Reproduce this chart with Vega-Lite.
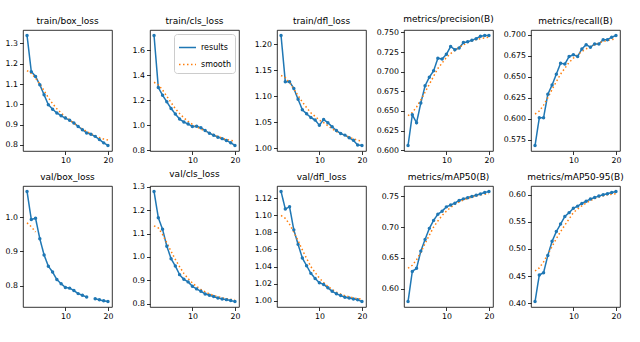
{
"$schema":"https://vega.github.io/schema/vega-lite/v6.json",
"background":"white",
"padding":{"left":4,"top":14,"right":4,"bottom":4},
"columns":5,
"bounds":"flush",
"spacing":{"row":35,"column":38},
"config":{
 "view":{"continuousWidth":89,"continuousHeight":121,"stroke":"#000","strokeWidth":0.8},
 "axis":{"grid":false,"domain":false,"tickColor":"#000","tickSize":3.5,"tickWidth":0.8,"labelFont":"DejaVu Sans","labelFontSize":7.8,"labelColor":"#000","labelPadding":2,"title":null},
 "title":{"font":"DejaVu Sans","fontSize":9,"fontWeight":"normal","color":"#000","offset":4},
 "legend":{"labelFont":"DejaVu Sans","labelFontSize":8,"labelColor":"#000","fillColor":"white","strokeColor":"#cccccc","cornerRadius":3,"padding":4,"offset":4,"rowPadding":3,"symbolType":"stroke","symbolSize":289,"symbolStrokeWidth":1.5}
},
"data":{"values":[
{"m":"train/box_loss","e":1,"results":1.339,"smooth":1.166},
{"m":"train/box_loss","e":2,"results":1.161,"smooth":1.152},
{"m":"train/box_loss","e":3,"results":1.137,"smooth":1.129},
{"m":"train/box_loss","e":4,"results":1.096,"smooth":1.100},
{"m":"train/box_loss","e":5,"results":1.047,"smooth":1.067},
{"m":"train/box_loss","e":6,"results":0.998,"smooth":1.033},
{"m":"train/box_loss","e":7,"results":0.976,"smooth":1.003},
{"m":"train/box_loss","e":8,"results":0.957,"smooth":0.978},
{"m":"train/box_loss","e":9,"results":0.944,"smooth":0.957},
{"m":"train/box_loss","e":10,"results":0.932,"smooth":0.938},
{"m":"train/box_loss","e":11,"results":0.921,"smooth":0.922},
{"m":"train/box_loss","e":12,"results":0.908,"smooth":0.907},
{"m":"train/box_loss","e":13,"results":0.891,"smooth":0.892},
{"m":"train/box_loss","e":14,"results":0.875,"smooth":0.879},
{"m":"train/box_loss","e":15,"results":0.859,"smooth":0.866},
{"m":"train/box_loss","e":16,"results":0.852,"smooth":0.855},
{"m":"train/box_loss","e":17,"results":0.842,"smooth":0.845},
{"m":"train/box_loss","e":18,"results":0.826,"smooth":0.836},
{"m":"train/box_loss","e":19,"results":0.810,"smooth":0.829},
{"m":"train/box_loss","e":20,"results":0.797,"smooth":0.824},
{"m":"train/cls_loss","e":1,"results":1.720,"smooth":1.345},
{"m":"train/cls_loss","e":2,"results":1.303,"smooth":1.325},
{"m":"train/cls_loss","e":3,"results":1.241,"smooth":1.283},
{"m":"train/cls_loss","e":4,"results":1.188,"smooth":1.233},
{"m":"train/cls_loss","e":5,"results":1.135,"smooth":1.182},
{"m":"train/cls_loss","e":6,"results":1.090,"smooth":1.134},
{"m":"train/cls_loss","e":7,"results":1.050,"smooth":1.094},
{"m":"train/cls_loss","e":8,"results":1.026,"smooth":1.060},
{"m":"train/cls_loss","e":9,"results":1.010,"smooth":1.031},
{"m":"train/cls_loss","e":10,"results":0.990,"smooth":1.008},
{"m":"train/cls_loss","e":11,"results":0.992,"smooth":0.988},
{"m":"train/cls_loss","e":12,"results":0.980,"smooth":0.970},
{"m":"train/cls_loss","e":13,"results":0.958,"smooth":0.954},
{"m":"train/cls_loss","e":14,"results":0.937,"smooth":0.939},
{"m":"train/cls_loss","e":15,"results":0.920,"smooth":0.924},
{"m":"train/cls_loss","e":16,"results":0.905,"smooth":0.910},
{"m":"train/cls_loss","e":17,"results":0.893,"smooth":0.897},
{"m":"train/cls_loss","e":18,"results":0.878,"smooth":0.886},
{"m":"train/cls_loss","e":19,"results":0.860,"smooth":0.878},
{"m":"train/cls_loss","e":20,"results":0.838,"smooth":0.8735},
{"m":"train/dfl_loss","e":1,"results":1.217,"smooth":1.140},
{"m":"train/dfl_loss","e":2,"results":1.128,"smooth":1.136},
{"m":"train/dfl_loss","e":3,"results":1.128,"smooth":1.126},
{"m":"train/dfl_loss","e":4,"results":1.115,"smooth":1.114},
{"m":"train/dfl_loss","e":5,"results":1.094,"smooth":1.101},
{"m":"train/dfl_loss","e":6,"results":1.074,"smooth":1.089},
{"m":"train/dfl_loss","e":7,"results":1.066,"smooth":1.078},
{"m":"train/dfl_loss","e":8,"results":1.059,"smooth":1.068},
{"m":"train/dfl_loss","e":9,"results":1.054,"smooth":1.061},
{"m":"train/dfl_loss","e":10,"results":1.044,"smooth":1.054},
{"m":"train/dfl_loss","e":11,"results":1.055,"smooth":1.049},
{"m":"train/dfl_loss","e":12,"results":1.049,"smooth":1.043},
{"m":"train/dfl_loss","e":13,"results":1.041,"smooth":1.037},
{"m":"train/dfl_loss","e":14,"results":1.034,"smooth":1.032},
{"m":"train/dfl_loss","e":15,"results":1.028,"smooth":1.028},
{"m":"train/dfl_loss","e":16,"results":1.025,"smooth":1.025},
{"m":"train/dfl_loss","e":17,"results":1.020,"smooth":1.021},
{"m":"train/dfl_loss","e":18,"results":1.015,"smooth":1.018},
{"m":"train/dfl_loss","e":19,"results":1.006,"smooth":1.015},
{"m":"train/dfl_loss","e":20,"results":1.005,"smooth":1.0137},
{"m":"metrics/precision(B)","e":1,"results":0.606,"smooth":0.644},
{"m":"metrics/precision(B)","e":2,"results":0.645,"smooth":0.648},
{"m":"metrics/precision(B)","e":3,"results":0.635,"smooth":0.655},
{"m":"metrics/precision(B)","e":4,"results":0.660,"smooth":0.664},
{"m":"metrics/precision(B)","e":5,"results":0.682,"smooth":0.674},
{"m":"metrics/precision(B)","e":6,"results":0.693,"smooth":0.684},
{"m":"metrics/precision(B)","e":7,"results":0.701,"smooth":0.694},
{"m":"metrics/precision(B)","e":8,"results":0.717,"smooth":0.704},
{"m":"metrics/precision(B)","e":9,"results":0.716,"smooth":0.711},
{"m":"metrics/precision(B)","e":10,"results":0.722,"smooth":0.718},
{"m":"metrics/precision(B)","e":11,"results":0.732,"smooth":0.723},
{"m":"metrics/precision(B)","e":12,"results":0.728,"smooth":0.727},
{"m":"metrics/precision(B)","e":13,"results":0.730,"smooth":0.731},
{"m":"metrics/precision(B)","e":14,"results":0.737,"smooth":0.734},
{"m":"metrics/precision(B)","e":15,"results":0.738,"smooth":0.737},
{"m":"metrics/precision(B)","e":16,"results":0.740,"smooth":0.739},
{"m":"metrics/precision(B)","e":17,"results":0.742,"smooth":0.741},
{"m":"metrics/precision(B)","e":18,"results":0.745,"smooth":0.742},
{"m":"metrics/precision(B)","e":19,"results":0.746,"smooth":0.743},
{"m":"metrics/precision(B)","e":20,"results":0.746,"smooth":0.744},
{"m":"metrics/recall(B)","e":1,"results":0.568,"smooth":0.6055},
{"m":"metrics/recall(B)","e":2,"results":0.601,"smooth":0.609},
{"m":"metrics/recall(B)","e":3,"results":0.601,"smooth":0.616},
{"m":"metrics/recall(B)","e":4,"results":0.629,"smooth":0.625},
{"m":"metrics/recall(B)","e":5,"results":0.640,"smooth":0.6347},
{"m":"metrics/recall(B)","e":6,"results":0.653,"smooth":0.644},
{"m":"metrics/recall(B)","e":7,"results":0.666,"smooth":0.653},
{"m":"metrics/recall(B)","e":8,"results":0.665,"smooth":0.660},
{"m":"metrics/recall(B)","e":9,"results":0.674,"smooth":0.667},
{"m":"metrics/recall(B)","e":10,"results":0.676,"smooth":0.672},
{"m":"metrics/recall(B)","e":11,"results":0.674,"smooth":0.676},
{"m":"metrics/recall(B)","e":12,"results":0.683,"smooth":0.680},
{"m":"metrics/recall(B)","e":13,"results":0.688,"smooth":0.683},
{"m":"metrics/recall(B)","e":14,"results":0.685,"smooth":0.686},
{"m":"metrics/recall(B)","e":15,"results":0.689,"smooth":0.688},
{"m":"metrics/recall(B)","e":16,"results":0.689,"smooth":0.690},
{"m":"metrics/recall(B)","e":17,"results":0.694,"smooth":0.692},
{"m":"metrics/recall(B)","e":18,"results":0.694,"smooth":0.693},
{"m":"metrics/recall(B)","e":19,"results":0.697,"smooth":0.694},
{"m":"metrics/recall(B)","e":20,"results":0.699,"smooth":0.695},
{"m":"val/box_loss","e":1,"results":1.075,"smooth":0.9836},
{"m":"val/box_loss","e":2,"results":0.993,"smooth":0.972},
{"m":"val/box_loss","e":3,"results":0.997,"smooth":0.9568},
{"m":"val/box_loss","e":4,"results":0.937,"smooth":null},
{"m":"val/box_loss","e":5,"results":0.890,"smooth":null},
{"m":"val/box_loss","e":6,"results":0.857,"smooth":null},
{"m":"val/box_loss","e":7,"results":0.840,"smooth":null},
{"m":"val/box_loss","e":8,"results":0.818,"smooth":null},
{"m":"val/box_loss","e":9,"results":0.806,"smooth":null},
{"m":"val/box_loss","e":10,"results":0.795,"smooth":null},
{"m":"val/box_loss","e":11,"results":0.793,"smooth":null},
{"m":"val/box_loss","e":12,"results":0.786,"smooth":null},
{"m":"val/box_loss","e":13,"results":0.777,"smooth":null},
{"m":"val/box_loss","e":14,"results":0.772,"smooth":null},
{"m":"val/box_loss","e":15,"results":0.767,"smooth":null},
{"m":"val/box_loss","e":16,"results":null,"smooth":null},
{"m":"val/box_loss","e":17,"results":0.762,"smooth":null},
{"m":"val/box_loss","e":18,"results":0.759,"smooth":null},
{"m":"val/box_loss","e":19,"results":0.756,"smooth":null},
{"m":"val/box_loss","e":20,"results":0.754,"smooth":null},
{"m":"val/cls_loss","e":1,"results":1.280,"smooth":1.133},
{"m":"val/cls_loss","e":2,"results":1.168,"smooth":1.124},
{"m":"val/cls_loss","e":3,"results":1.118,"smooth":1.096},
{"m":"val/cls_loss","e":4,"results":1.046,"smooth":1.060},
{"m":"val/cls_loss","e":5,"results":0.992,"smooth":1.024},
{"m":"val/cls_loss","e":6,"results":0.961,"smooth":0.989},
{"m":"val/cls_loss","e":7,"results":0.924,"smooth":0.958},
{"m":"val/cls_loss","e":8,"results":0.904,"smooth":0.9295},
{"m":"val/cls_loss","e":9,"results":0.893,"smooth":0.907},
{"m":"val/cls_loss","e":10,"results":0.874,"smooth":0.888},
{"m":"val/cls_loss","e":11,"results":0.863,"smooth":0.873},
{"m":"val/cls_loss","e":12,"results":0.853,"smooth":0.861},
{"m":"val/cls_loss","e":13,"results":0.841,"smooth":0.850},
{"m":"val/cls_loss","e":14,"results":0.836,"smooth":0.8415},
{"m":"val/cls_loss","e":15,"results":0.830,"smooth":0.835},
{"m":"val/cls_loss","e":16,"results":0.824,"smooth":0.829},
{"m":"val/cls_loss","e":17,"results":0.820,"smooth":0.825},
{"m":"val/cls_loss","e":18,"results":0.817,"smooth":0.821},
{"m":"val/cls_loss","e":19,"results":0.813,"smooth":0.818},
{"m":"val/cls_loss","e":20,"results":0.809,"smooth":0.817},
{"m":"val/dfl_loss","e":1,"results":1.128,"smooth":1.0999},
{"m":"val/dfl_loss","e":2,"results":1.1075,"smooth":1.0965},
{"m":"val/dfl_loss","e":3,"results":1.110,"smooth":1.0895},
{"m":"val/dfl_loss","e":4,"results":1.083,"smooth":1.0804},
{"m":"val/dfl_loss","e":5,"results":1.066,"smooth":1.0702},
{"m":"val/dfl_loss","e":6,"results":1.050,"smooth":1.0596},
{"m":"val/dfl_loss","e":7,"results":1.041,"smooth":1.0494},
{"m":"val/dfl_loss","e":8,"results":1.032,"smooth":1.0400},
{"m":"val/dfl_loss","e":9,"results":1.026,"smooth":1.0330},
{"m":"val/dfl_loss","e":10,"results":1.021,"smooth":1.0265},
{"m":"val/dfl_loss","e":11,"results":1.019,"smooth":1.0212},
{"m":"val/dfl_loss","e":12,"results":1.015,"smooth":1.0168},
{"m":"val/dfl_loss","e":13,"results":1.011,"smooth":1.0130},
{"m":"val/dfl_loss","e":14,"results":1.008,"smooth":1.0100},
{"m":"val/dfl_loss","e":15,"results":1.006,"smooth":1.0077},
{"m":"val/dfl_loss","e":16,"results":1.004,"smooth":1.0059},
{"m":"val/dfl_loss","e":17,"results":1.003,"smooth":1.0045},
{"m":"val/dfl_loss","e":18,"results":1.002,"smooth":1.0033},
{"m":"val/dfl_loss","e":19,"results":1.001,"smooth":1.0024},
{"m":"val/dfl_loss","e":20,"results":0.999,"smooth":1.0019},
{"m":"metrics/mAP50(B)","e":1,"results":0.579,"smooth":0.6331},
{"m":"metrics/mAP50(B)","e":2,"results":0.628,"smooth":0.638},
{"m":"metrics/mAP50(B)","e":3,"results":0.633,"smooth":0.647},
{"m":"metrics/mAP50(B)","e":4,"results":0.661,"smooth":0.659},
{"m":"metrics/mAP50(B)","e":5,"results":0.680,"smooth":0.6732},
{"m":"metrics/mAP50(B)","e":6,"results":0.698,"smooth":0.687},
{"m":"metrics/mAP50(B)","e":7,"results":0.711,"smooth":0.700},
{"m":"metrics/mAP50(B)","e":8,"results":0.721,"smooth":0.710},
{"m":"metrics/mAP50(B)","e":9,"results":0.726,"smooth":0.719},
{"m":"metrics/mAP50(B)","e":10,"results":0.733,"smooth":0.726},
{"m":"metrics/mAP50(B)","e":11,"results":0.736,"smooth":0.732},
{"m":"metrics/mAP50(B)","e":12,"results":0.739,"smooth":0.737},
{"m":"metrics/mAP50(B)","e":13,"results":0.7435,"smooth":0.741},
{"m":"metrics/mAP50(B)","e":14,"results":0.746,"smooth":0.744},
{"m":"metrics/mAP50(B)","e":15,"results":0.748,"smooth":0.7467},
{"m":"metrics/mAP50(B)","e":16,"results":0.750,"smooth":0.749},
{"m":"metrics/mAP50(B)","e":17,"results":0.752,"smooth":0.751},
{"m":"metrics/mAP50(B)","e":18,"results":0.754,"smooth":0.7525},
{"m":"metrics/mAP50(B)","e":19,"results":0.7565,"smooth":0.7535},
{"m":"metrics/mAP50(B)","e":20,"results":0.758,"smooth":0.7542},
{"m":"metrics/mAP50-95(B)","e":1,"results":0.403,"smooth":0.4593},
{"m":"metrics/mAP50-95(B)","e":2,"results":0.452,"smooth":0.465},
{"m":"metrics/mAP50-95(B)","e":3,"results":0.456,"smooth":0.476},
{"m":"metrics/mAP50-95(B)","e":4,"results":0.488,"smooth":0.490},
{"m":"metrics/mAP50-95(B)","e":5,"results":0.514,"smooth":0.5046},
{"m":"metrics/mAP50-95(B)","e":6,"results":0.532,"smooth":0.519},
{"m":"metrics/mAP50-95(B)","e":7,"results":0.546,"smooth":0.532},
{"m":"metrics/mAP50-95(B)","e":8,"results":0.560,"smooth":0.544},
{"m":"metrics/mAP50-95(B)","e":9,"results":0.567,"smooth":0.5555},
{"m":"metrics/mAP50-95(B)","e":10,"results":0.575,"smooth":0.5671},
{"m":"metrics/mAP50-95(B)","e":11,"results":0.579,"smooth":0.5736},
{"m":"metrics/mAP50-95(B)","e":12,"results":0.584,"smooth":0.5796},
{"m":"metrics/mAP50-95(B)","e":13,"results":0.588,"smooth":0.5846},
{"m":"metrics/mAP50-95(B)","e":14,"results":0.592,"smooth":0.5891},
{"m":"metrics/mAP50-95(B)","e":15,"results":0.595,"smooth":0.5929},
{"m":"metrics/mAP50-95(B)","e":16,"results":0.5975,"smooth":0.596},
{"m":"metrics/mAP50-95(B)","e":17,"results":0.600,"smooth":0.598},
{"m":"metrics/mAP50-95(B)","e":18,"results":0.602,"smooth":0.600},
{"m":"metrics/mAP50-95(B)","e":19,"results":0.604,"smooth":0.601},
{"m":"metrics/mAP50-95(B)","e":20,"results":0.606,"smooth":0.6019}
]},
"resolve":{"scale":{"x":"independent","y":"independent","color":"independent","strokeDash":"independent"},"legend":{"color":"independent","strokeDash":"independent"}},
"concat":[
{"title":"train/box_loss","transform":[{"filter":{"field":"m","equal":"train/box_loss"}},{"fold":["results","smooth"],"as":["series","val"]}],
 "encoding":{"x":{"field":"e","type":"quantitative","scale":{"domain":[0.05,20.95],"nice":false},"axis":{"values":[10,20],"format":"d"}},
  "y":{"field":"val","type":"quantitative","scale":{"zero":false,"nice":false,"padding":5.5},"axis":{"values":[0.8,0.9,1.0,1.1,1.2,1.3],"format":".1f"}}},
 "layer":[{"mark":{"type":"line","strokeWidth":1.5},"encoding":{"color":{"field":"series","type":"nominal","scale":{"domain":["results","smooth"],"range":["#1f77b4","#ff7f0e"]},"legend":null},"strokeDash":{"field":"series","type":"nominal","scale":{"domain":["results","smooth"],"range":[[1,0],[1.5,2.5]]},"legend":null}}},
  {"transform":[{"filter":"datum.series=='results'"}],"mark":{"type":"point","filled":true,"size":12,"opacity":1,"color":"#1f77b4"},"encoding":{}}]},
{"title":"train/cls_loss","transform":[{"filter":{"field":"m","equal":"train/cls_loss"}},{"fold":["results","smooth"],"as":["series","val"]}],
 "encoding":{"x":{"field":"e","type":"quantitative","scale":{"domain":[0.05,20.95],"nice":false},"axis":{"values":[10,20],"format":"d"}},
  "y":{"field":"val","type":"quantitative","scale":{"zero":false,"nice":false,"padding":5.5},"axis":{"values":[0.8,1.0,1.2,1.4,1.6],"format":".1f"}}},
 "layer":[{"mark":{"type":"line","strokeWidth":1.5},"encoding":{"color":{"field":"series","type":"nominal","scale":{"domain":["results","smooth"],"range":["#1f77b4","#ff7f0e"]},"legend":{"title":null,"orient":"top-right"}},"strokeDash":{"field":"series","type":"nominal","scale":{"domain":["results","smooth"],"range":[[1,0],[1.5,2.5]]},"legend":{"title":null,"orient":"top-right"}}}},
  {"transform":[{"filter":"datum.series=='results'"}],"mark":{"type":"point","filled":true,"size":12,"opacity":1,"color":"#1f77b4"},"encoding":{}}]},
{"title":"train/dfl_loss","transform":[{"filter":{"field":"m","equal":"train/dfl_loss"}},{"fold":["results","smooth"],"as":["series","val"]}],
 "encoding":{"x":{"field":"e","type":"quantitative","scale":{"domain":[0.05,20.95],"nice":false},"axis":{"values":[10,20],"format":"d"}},
  "y":{"field":"val","type":"quantitative","scale":{"zero":false,"nice":false,"padding":5.5},"axis":{"values":[1.0,1.05,1.1,1.15,1.2],"format":".2f"}}},
 "layer":[{"mark":{"type":"line","strokeWidth":1.5},"encoding":{"color":{"field":"series","type":"nominal","scale":{"domain":["results","smooth"],"range":["#1f77b4","#ff7f0e"]},"legend":null},"strokeDash":{"field":"series","type":"nominal","scale":{"domain":["results","smooth"],"range":[[1,0],[1.5,2.5]]},"legend":null}}},
  {"transform":[{"filter":"datum.series=='results'"}],"mark":{"type":"point","filled":true,"size":12,"opacity":1,"color":"#1f77b4"},"encoding":{}}]},
{"title":"metrics/precision(B)","transform":[{"filter":{"field":"m","equal":"metrics/precision(B)"}},{"fold":["results","smooth"],"as":["series","val"]}],
 "encoding":{"x":{"field":"e","type":"quantitative","scale":{"domain":[0.05,20.95],"nice":false},"axis":{"values":[10,20],"format":"d"}},
  "y":{"field":"val","type":"quantitative","scale":{"zero":false,"nice":false,"padding":5.5},"axis":{"values":[0.6,0.625,0.65,0.675,0.7,0.725,0.75],"format":".3f"}}},
 "layer":[{"mark":{"type":"line","strokeWidth":1.5},"encoding":{"color":{"field":"series","type":"nominal","scale":{"domain":["results","smooth"],"range":["#1f77b4","#ff7f0e"]},"legend":null},"strokeDash":{"field":"series","type":"nominal","scale":{"domain":["results","smooth"],"range":[[1,0],[1.5,2.5]]},"legend":null}}},
  {"transform":[{"filter":"datum.series=='results'"}],"mark":{"type":"point","filled":true,"size":12,"opacity":1,"color":"#1f77b4"},"encoding":{}}]},
{"title":"metrics/recall(B)","transform":[{"filter":{"field":"m","equal":"metrics/recall(B)"}},{"fold":["results","smooth"],"as":["series","val"]}],
 "encoding":{"x":{"field":"e","type":"quantitative","scale":{"domain":[0.05,20.95],"nice":false},"axis":{"values":[10,20],"format":"d"}},
  "y":{"field":"val","type":"quantitative","scale":{"zero":false,"nice":false,"padding":5.5},"axis":{"values":[0.575,0.6,0.625,0.65,0.675,0.7],"format":".3f"}}},
 "layer":[{"mark":{"type":"line","strokeWidth":1.5},"encoding":{"color":{"field":"series","type":"nominal","scale":{"domain":["results","smooth"],"range":["#1f77b4","#ff7f0e"]},"legend":null},"strokeDash":{"field":"series","type":"nominal","scale":{"domain":["results","smooth"],"range":[[1,0],[1.5,2.5]]},"legend":null}}},
  {"transform":[{"filter":"datum.series=='results'"}],"mark":{"type":"point","filled":true,"size":12,"opacity":1,"color":"#1f77b4"},"encoding":{}}]},
{"title":"val/box_loss","transform":[{"filter":{"field":"m","equal":"val/box_loss"}},{"fold":["results","smooth"],"as":["series","val"]}],
 "encoding":{"x":{"field":"e","type":"quantitative","scale":{"domain":[0.05,20.95],"nice":false},"axis":{"values":[10,20],"format":"d"}},
  "y":{"field":"val","type":"quantitative","scale":{"zero":false,"nice":false,"padding":5.5},"axis":{"values":[0.8,0.9,1.0],"format":".1f"}}},
 "layer":[{"mark":{"type":"line","strokeWidth":1.5},"encoding":{"color":{"field":"series","type":"nominal","scale":{"domain":["results","smooth"],"range":["#1f77b4","#ff7f0e"]},"legend":null},"strokeDash":{"field":"series","type":"nominal","scale":{"domain":["results","smooth"],"range":[[1,0],[1.5,2.5]]},"legend":null}}},
  {"transform":[{"filter":"datum.series=='results'"}],"mark":{"type":"point","filled":true,"size":12,"opacity":1,"color":"#1f77b4"},"encoding":{}}]},
{"title":"val/cls_loss","transform":[{"filter":{"field":"m","equal":"val/cls_loss"}},{"fold":["results","smooth"],"as":["series","val"]}],
 "encoding":{"x":{"field":"e","type":"quantitative","scale":{"domain":[0.05,20.95],"nice":false},"axis":{"values":[10,20],"format":"d"}},
  "y":{"field":"val","type":"quantitative","scale":{"zero":false,"nice":false,"padding":5.5},"axis":{"values":[0.8,0.9,1.0,1.1,1.2,1.3],"format":".1f"}}},
 "layer":[{"mark":{"type":"line","strokeWidth":1.5},"encoding":{"color":{"field":"series","type":"nominal","scale":{"domain":["results","smooth"],"range":["#1f77b4","#ff7f0e"]},"legend":null},"strokeDash":{"field":"series","type":"nominal","scale":{"domain":["results","smooth"],"range":[[1,0],[1.5,2.5]]},"legend":null}}},
  {"transform":[{"filter":"datum.series=='results'"}],"mark":{"type":"point","filled":true,"size":12,"opacity":1,"color":"#1f77b4"},"encoding":{}}]},
{"title":"val/dfl_loss","transform":[{"filter":{"field":"m","equal":"val/dfl_loss"}},{"fold":["results","smooth"],"as":["series","val"]}],
 "encoding":{"x":{"field":"e","type":"quantitative","scale":{"domain":[0.05,20.95],"nice":false},"axis":{"values":[10,20],"format":"d"}},
  "y":{"field":"val","type":"quantitative","scale":{"zero":false,"nice":false,"padding":5.5},"axis":{"values":[1.0,1.02,1.04,1.06,1.08,1.1,1.12],"format":".2f"}}},
 "layer":[{"mark":{"type":"line","strokeWidth":1.5},"encoding":{"color":{"field":"series","type":"nominal","scale":{"domain":["results","smooth"],"range":["#1f77b4","#ff7f0e"]},"legend":null},"strokeDash":{"field":"series","type":"nominal","scale":{"domain":["results","smooth"],"range":[[1,0],[1.5,2.5]]},"legend":null}}},
  {"transform":[{"filter":"datum.series=='results'"}],"mark":{"type":"point","filled":true,"size":12,"opacity":1,"color":"#1f77b4"},"encoding":{}}]},
{"title":"metrics/mAP50(B)","transform":[{"filter":{"field":"m","equal":"metrics/mAP50(B)"}},{"fold":["results","smooth"],"as":["series","val"]}],
 "encoding":{"x":{"field":"e","type":"quantitative","scale":{"domain":[0.05,20.95],"nice":false},"axis":{"values":[10,20],"format":"d"}},
  "y":{"field":"val","type":"quantitative","scale":{"zero":false,"nice":false,"padding":5.5},"axis":{"values":[0.6,0.65,0.7,0.75],"format":".2f"}}},
 "layer":[{"mark":{"type":"line","strokeWidth":1.5},"encoding":{"color":{"field":"series","type":"nominal","scale":{"domain":["results","smooth"],"range":["#1f77b4","#ff7f0e"]},"legend":null},"strokeDash":{"field":"series","type":"nominal","scale":{"domain":["results","smooth"],"range":[[1,0],[1.5,2.5]]},"legend":null}}},
  {"transform":[{"filter":"datum.series=='results'"}],"mark":{"type":"point","filled":true,"size":12,"opacity":1,"color":"#1f77b4"},"encoding":{}}]},
{"title":"metrics/mAP50-95(B)","transform":[{"filter":{"field":"m","equal":"metrics/mAP50-95(B)"}},{"fold":["results","smooth"],"as":["series","val"]}],
 "encoding":{"x":{"field":"e","type":"quantitative","scale":{"domain":[0.05,20.95],"nice":false},"axis":{"values":[10,20],"format":"d"}},
  "y":{"field":"val","type":"quantitative","scale":{"zero":false,"nice":false,"padding":5.5},"axis":{"values":[0.4,0.45,0.5,0.55,0.6],"format":".2f"}}},
 "layer":[{"mark":{"type":"line","strokeWidth":1.5},"encoding":{"color":{"field":"series","type":"nominal","scale":{"domain":["results","smooth"],"range":["#1f77b4","#ff7f0e"]},"legend":null},"strokeDash":{"field":"series","type":"nominal","scale":{"domain":["results","smooth"],"range":[[1,0],[1.5,2.5]]},"legend":null}}},
  {"transform":[{"filter":"datum.series=='results'"}],"mark":{"type":"point","filled":true,"size":12,"opacity":1,"color":"#1f77b4"},"encoding":{}}]}
]
}
